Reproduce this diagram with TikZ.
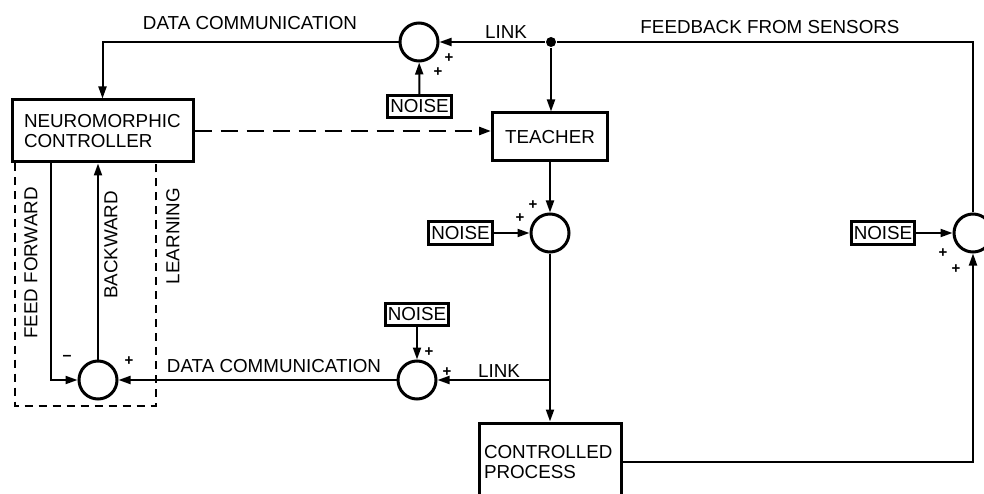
\documentclass[tikz,border=0pt]{standalone}
\usepackage{fontspec}
\setmainfont{Liberation Sans}
\usetikzlibrary{arrows.meta}

\begin{document}
\begin{tikzpicture}[x=1pt, y=-1pt, line width=2pt, >={Triangle[length=12pt,width=8pt]}]
\tikzstyle{every node}=[font=\fontsize{18.8}{20.5}\selectfont, inner sep=0pt];
\tikzstyle{block}=[draw, line width=3pt, align=left];
\tikzstyle{sum}=[draw, circle, line width=3pt, minimum size=38pt];
\tikzstyle{noise}=[draw, line width=3pt, inner xsep=2.5pt, minimum height=22pt];
\tikzstyle{sign}=[font=\fontsize{15}{15}\selectfont\bfseries];
\useasboundingbox (0,0) rectangle (984,494);
\path (102.5,131) node[block, text width=157pt, inner xsep=12pt, minimum height=62pt] (ctrl) {NEUROMORPHIC\\CONTROLLER};
\path (550,137) node[block, minimum width=115pt, minimum height=48pt] (teacher) {TEACHER};
\path (550,462) node[block, text width=132pt, inner xsep=5pt, minimum height=78pt] (proc) {CONTROLLED\\PROCESS};
\path (419,42) node[sum] (s1) {};
\path (550,233) node[sum] (s2) {};
\path (973,233) node[sum] (s3) {};
\path (417,380) node[sum] (s4) {};
\path (98,380) node[sum] (s5) {};
\path (419.5,106.5) node[noise] (n1) {NOISE};
\path (460.5,233) node[noise] (n2) {NOISE};
\path (883,233) node[noise] (n3) {NOISE};
\path (417,314) node[noise] (n4) {NOISE};
\path (551,42) node[circle, fill, minimum size=10pt] (dot) {};
\coordinate (j) at (s2 |- s4);
\path (250,23) node {DATA COMMUNICATION};
\path (506,32) node {LINK};
\path (770,27) node {FEEDBACK FROM SENSORS};
\path (274,366) node {DATA COMMUNICATION};
\path (499,371) node {LINK};
\path (31,263) node[rotate=90] {FEED FORWARD};
\path (111,245) node[rotate=90] {BACKWARD};
\path (173,236) node[rotate=90] {LEARNING};
\path (449,58) node[sign] {+};
\path (438,72) node[sign] {+};
\path (520,218) node[sign] {+};
\path (533,205) node[sign] {+};
\path (943,253) node[sign] {+};
\path (956,269) node[sign] {+};
\path (429,352) node[sign] {+};
\path (447,372) node[sign] {+};
\path (129,361) node[sign] {+};
\path (67,358) node[font=\fontsize{16}{16}\selectfont\bfseries] {\textendash};
\draw[->] (s1.west) -| (ctrl.north);
\draw (s3.north) |- (dot);
\draw[->] (dot) -- (s1);
\draw[->] (dot) -- (dot |- teacher.north);
\draw[->] (n1) -- (s1);
\draw[->, line width=2.6pt, dash pattern=on 17pt off 9pt] (ctrl.east) -- (ctrl.east -| teacher.west);
\draw[->] (teacher) -- (s2);
\draw[->] (n2) -- (s2);
\draw[->] (n3) -- (s3);
\draw[->] (s2) -- (proc);
\draw[->] (j) -- (s4);
\draw[->] (n4) -- (s4);
\draw[->] (s4) -- (s5);
\draw[->] (proc.east) -| (s3.south);
\draw[->] ([xshift=40pt]ctrl.south west) |- (s5.west);
\draw[->] (s5) -- (s5 |- ctrl.south);
\draw[dash pattern=on 8pt off 6pt] ([xshift=4pt]ctrl.south west) -- ++(0,242) -| ([xshift=145pt]ctrl.south west);
\end{tikzpicture}
\end{document}
